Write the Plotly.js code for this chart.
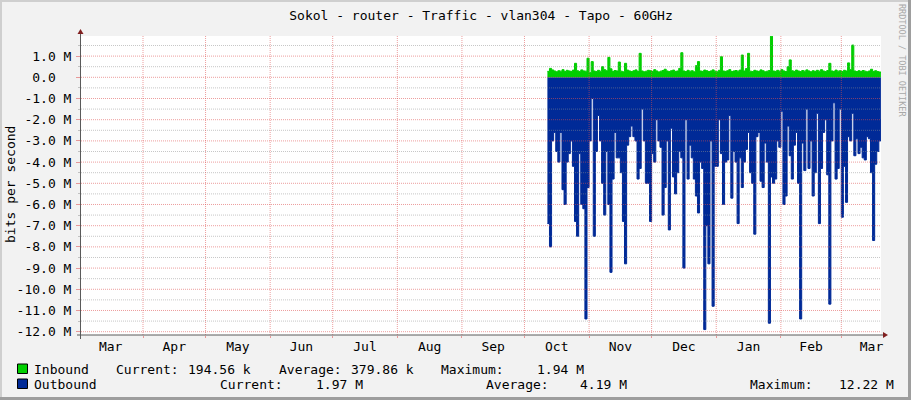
<!DOCTYPE html>
<html>
<head>
<meta charset="utf-8">
<script src="https://cdn.plot.ly/plotly-3.0.1.min.js"></script>
<style>
html, body { margin: 0; padding: 0; background: #f2f2f2; }
#graph { width: 911px; height: 400px; }
</style>
</head>
<body>
<div id="graph"></div>
<script>
// one sample per day, starting 2023-10-12, values in Mbit/s
var firstDay = '2023-10-12';

var inbound = [
    0.28, 0.42, 0.35, 0.30, 0.26, 0.31, 0.29, 0.36, 0.27, 0.33,
    0.30, 0.28, 0.34, 0.66, 0.31, 0.27, 0.35, 0.30, 0.29, 0.90,
    0.22, 0.74, 0.30, 0.27, 0.33, 0.29, 0.50, 0.36, 0.31, 0.94,
    0.40, 0.28, 0.32, 0.30, 0.72, 0.29, 0.26, 0.66, 0.34, 0.30,
    0.27, 0.31, 0.35, 0.28, 1.13, 0.30, 0.26, 0.29, 0.33, 0.31,
    0.28, 0.36, 0.30, 0.25, 0.29, 0.32, 0.38, 0.30, 0.27, 0.31,
    0.34, 0.28, 0.30, 0.42, 1.16, 0.30, 0.27, 0.33, 0.29, 0.31,
    0.26, 0.55, 0.74, 0.30, 0.28, 0.34, 0.31, 0.27, 0.30, 0.35,
    0.29, 0.26, 0.33, 0.97, 0.30, 0.28, 0.31, 0.36, 0.27, 0.30,
    0.32, 0.29, 0.34, 1.05, 0.30, 0.41, 1.13, 0.29, 0.27, 0.33,
    0.30, 0.28, 0.35, 0.31, 0.26, 0.29, 0.32, 1.94, 0.30, 0.28,
    0.33, 0.29, 0.36, 0.30, 0.27, 0.50, 0.82, 0.31, 0.28, 0.34,
    0.30, 0.27, 0.32, 0.29, 0.35, 0.30, 0.26, 0.31, 0.28, 0.33,
    0.29, 0.36, 0.30, 0.27, 0.32, 0.66, 0.30, 0.28, 0.34, 0.29,
    0.31, 0.27, 0.33, 0.30, 0.68, 0.36, 1.52, 0.30, 0.27, 0.31,
    0.28, 0.32, 0.29, 0.26, 0.30, 0.38, 0.28, 0.31, 0.27, 0.25, 0.19
];

// outbound is drawn below zero, like the rrd graph does
var outbound = [
    -6.9, -8.0, -3.0, -2.6, -3.5, -4.0, -2.6, -5.3, -6.0, -4.0,
    -3.6, -3.0, -4.2, -6.8, -7.5, -3.6, -6.0, -6.2, -11.4, -5.2,
    -3.0, -1.0, -7.5, -3.5, -1.8, -3.0, -5.0, -6.5, -3.5, -6.0,
    -9.2, -4.8, -2.6, -3.8, -3.8, -4.5, -6.8, -8.8, -3.2, -2.8,
    -2.3, -2.8, -3.0, -4.8, -4.3, -1.5, -3.0, -5.0, -5.0, -6.8,
    -3.6, -4.0, -2.0, -3.0, -3.3, -6.5, -5.2, -3.0, -7.2, -2.4,
    -4.7, -5.5, -4.5, -3.5, -3.8, -9.0, -2.0, -4.8, -3.2, -3.8,
    -4.8, -5.6, -6.4, -4.0, -4.3, -11.9, -7.0, -8.8, -3.0, -10.8,
    -4.2, -4.2, -2.0, -3.6, -6.0, -4.0, -3.9, -1.8, -5.7, -3.5,
    -4.0, -6.9, -3.8, -5.2, -4.0, -3.4, -2.6, -4.5, -5.0, -7.4,
    -2.8, -2.6, -4.9, -5.2, -3.1, -4.0, -11.6, -4.7, -5.0, -4.8,
    -3.0, -3.3, -1.6, -6.0, -5.6, -2.3, -3.7, -4.8, -3.2, -2.6,
    -5.0, -11.4, -3.1, -4.4, -1.5, -4.3, -3.0, -5.6, -4.5, -1.7,
    -6.9, -4.3, -2.6, -2.0, -4.6, -10.7, -3.0, -1.2, -4.8, -4.3,
    -1.5, -6.6, -4.2, -5.9, -2.8, -3.0, -1.7, -3.7, -2.9, -3.6,
    -3.3, -3.8, -3.9, -2.8, -2.9, -4.5, -7.7, -4.1, -3.5, -3.0, -1.97
];

var yTickVals = [1, 0, -1, -2, -3, -4, -5, -6, -7, -8, -9, -10, -11, -12];
var yTickText = ['1.0 M', '0.0\u00a0\u00a0', '-1.0 M', '-2.0 M', '-3.0 M', '-4.0 M', '-5.0 M',
    '-6.0 M', '-7.0 M', '-8.0 M', '-9.0 M', '-10.0 M', '-11.0 M', '-12.0 M'];

var legendNames = ['Inbound', 'Outbound'];
var legendColors = ['#00CF00', '#002A97'];
var statNames = ['Current:', 'Average:', 'Maximum:'];
var inboundStats = ['194.56 k', '379.86 k', '1.94 M'];
var outboundStats = ['1.97 M', '4.19 M', '12.22 M'];

var titleText = 'Sokol - router - Traffic - vlan304 - Tapo - 60GHz';
var mono = 'DejaVu Sans Mono, monospace';
var majorGrid = 'rgba(222,79,79,0.55)';
var minorGrid = 'rgba(143,143,143,0.5)';

// pixel -> paper helpers, canvas is 81..881 x 36..335
function px(x) { return (x - 81) / 800; }
function py(y) { return (335 - y) / 299; }

function dayList(start, n) {
    let t0 = Date.parse(start + 'T00:00:00Z');
    let out = [];
    for (let i = 0; i < n; i++) {
        out.push(new Date(t0 + i * 86400000).toISOString().slice(0, 10));
    }
    return out;
}

let days = dayList(firstDay, inbound.length);

let data = [
    {
        x: days, y: outbound, type: 'scatter', mode: 'lines',
        line: { shape: 'hv', width: 1, color: legendColors[1] },
        fill: 'tozeroy', fillcolor: legendColors[1], hoverinfo: 'skip'
    },
    {
        x: days, y: inbound, type: 'scatter', mode: 'lines',
        line: { shape: 'hv', width: 1, color: legendColors[0] },
        fill: 'tozeroy', fillcolor: legendColors[0], hoverinfo: 'skip'
    }
];

let shapes = [];
// grid drawn on top of the areas, rrdtool style
yTickVals.forEach(function (v) {
    if (v > -12) {
        shapes.push({ type: 'line', layer: 'above', xref: 'paper', yref: 'y', x0: 0, x1: 1, y0: v - 0.5, y1: v - 0.5,
            line: { color: minorGrid, width: 1, dash: '1px,1px' } });
    }
});
shapes.push({ type: 'line', layer: 'above', xref: 'paper', yref: 'y', x0: 0, x1: 1, y0: 1.5, y1: 1.5,
    line: { color: minorGrid, width: 1, dash: '1px,1px' } });
yTickVals.forEach(function (v) {
    shapes.push({ type: 'line', layer: 'above', xref: 'paper', yref: 'y', x0: 0, x1: 1, y0: v, y1: v,
        line: { color: majorGrid, width: 1, dash: '1px,1px' } });
});
for (let m = 0; m < 12; m++) {
    let d = new Date(Date.UTC(2023, 3 + m, 1)).toISOString().slice(0, 10);
    shapes.push({ type: 'line', layer: 'above', xref: 'x', yref: 'paper', x0: d, x1: d, y0: 0, y1: 1,
        line: { color: majorGrid, width: 1, dash: '1px,1px' } });
}

// axes with arrows
shapes.push({ type: 'line', layer: 'above', xref: 'paper', yref: 'paper', x0: px(80.5), x1: px(80.5), y0: py(339), y1: py(32),
    line: { color: '#5a5a5a', width: 1 } });
shapes.push({ type: 'line', layer: 'above', xref: 'paper', yref: 'paper', x0: px(77), x1: px(884), y0: py(335), y1: py(335),
    line: { color: '#5a5a5a', width: 1 } });
shapes.push({ type: 'path', layer: 'above', xref: 'paper', yref: 'paper',
    path: 'M' + px(80.5) + ',' + py(29) + ' L' + px(77.5) + ',' + py(34) + ' L' + px(83.5) + ',' + py(34) + ' Z',
    fillcolor: '#801F1F', line: { width: 0 } });
shapes.push({ type: 'path', layer: 'above', xref: 'paper', yref: 'paper',
    path: 'M' + px(888) + ',' + py(335) + ' L' + px(883) + ',' + py(332) + ' L' + px(883) + ',' + py(338) + ' Z',
    fillcolor: '#801F1F', line: { width: 0 } });

// image frame
shapes.push({ type: 'line', xref: 'paper', yref: 'paper', x0: px(0), x1: px(911), y0: py(1), y1: py(1), line: { color: '#CFCFCF', width: 2 } });
shapes.push({ type: 'line', xref: 'paper', yref: 'paper', x0: px(1), x1: px(1), y0: py(0), y1: py(400), line: { color: '#CFCFCF', width: 2 } });
shapes.push({ type: 'line', xref: 'paper', yref: 'paper', x0: px(909.5), x1: px(909.5), y0: py(0), y1: py(400), line: { color: '#9E9E9E', width: 3 } });
shapes.push({ type: 'line', xref: 'paper', yref: 'paper', x0: px(0), x1: px(911), y0: py(398.5), y1: py(398.5), line: { color: '#9E9E9E', width: 3 } });

// legend boxes
legendColors.forEach(function (c, i) {
    let top = 364 + i * 15;
    shapes.push({ type: 'rect', xref: 'paper', yref: 'paper', x0: px(17.5), x1: px(27.5), y0: py(top), y1: py(top + 9.5),
        fillcolor: c, line: { color: '#000', width: 1 } });
});

let annotations = [];
function label(text, x, y, opts) {
    annotations.push(Object.assign({
        text: text, xref: 'paper', yref: 'paper', x: px(x), y: py(y),
        xanchor: 'left', yanchor: 'middle', showarrow: false, borderpad: 0,
        font: { family: mono, size: 13, color: '#000' }
    }, opts || {}));
}

label(legendNames[0], 33, 369);
label(statNames[0], 115, 369);
label(inboundStats[0], 187, 369);
label(statNames[1], 278, 369);
label(inboundStats[1], 350, 369);
label(statNames[2], 440, 369);
label(inboundStats[2], 536, 369);

label(legendNames[1], 33, 384);
label(statNames[0], 219, 384);
label(outboundStats[0], 315, 384);
label(statNames[1], 485, 384);
label(outboundStats[1], 579, 384);
label(statNames[2], 749, 384);
label(outboundStats[2], 838, 384);

label('bits per second', 10, 185, { xanchor: 'center', textangle: -90 });
label('RRDTOOL / TOBI OETIKER', 902, 60, { xanchor: 'center', textangle: 90,
    font: { family: mono, size: 8.5, color: '#A8A8A8' } });

let layout = {
    width: 911, height: 400,
    margin: { l: 81, r: 30, t: 36, b: 65 },
    paper_bgcolor: '#F2F2F2', plot_bgcolor: '#FFFFFF',
    showlegend: false,
    title: {
        text: titleText, x: 0.5, xref: 'paper', xanchor: 'center', y: 1 - 15 / 400, yanchor: 'middle',
        font: { family: mono, size: 13, color: '#000' }
    },
    xaxis: {
        type: 'date', range: ['2023-03-02 06:00', '2024-03-20 01:00'],
        dtick: 'M1', tick0: '2023-01-01', tickformat: '%b', ticklabelmode: 'period',
        showgrid: false, zeroline: false, showline: false,
        ticks: 'outside', ticklen: 2, tickcolor: majorGrid, ticklabelstandoff: -3,
        tickfont: { family: mono, size: 13, color: '#000' }, fixedrange: true
    },
    yaxis: {
        range: [-12.156, 1.948],
        tickmode: 'array', tickvals: yTickVals, ticktext: yTickText,
        showgrid: false, zeroline: false, showline: false,
        ticks: 'outside', ticklen: 4, tickcolor: majorGrid, ticklabelstandoff: 2,
        minor: { tickmode: 'linear', tick0: 0.5, dtick: 1, ticks: 'outside', ticklen: 2, tickcolor: minorGrid, showgrid: false },
        tickfont: { family: mono, size: 13, color: '#000' }, fixedrange: true
    },
    shapes: shapes,
    annotations: annotations
};

Plotly.newPlot('graph', data, layout, { displayModeBar: false, staticPlot: true });
</script>
</body>
</html>
